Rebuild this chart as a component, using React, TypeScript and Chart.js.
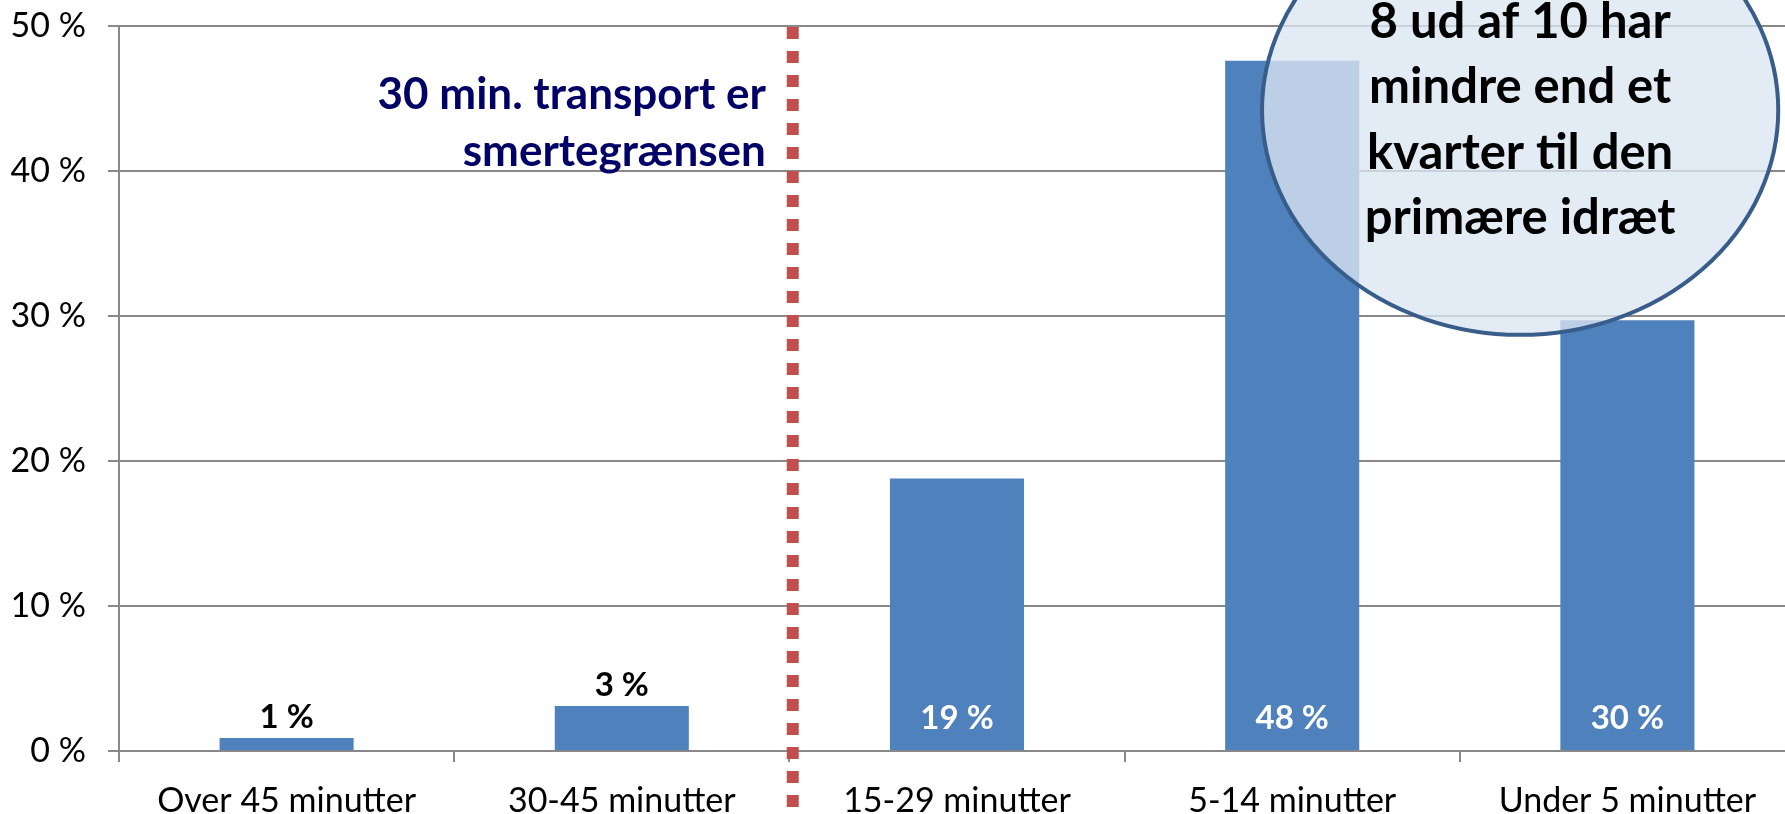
import React, { useEffect, useRef } from "react";
import { Chart, registerables } from "chart.js";

Chart.register(...registerables);

// ---- data ----
const categories = [
  "Over 45 minutter",
  "30-45 minutter",
  "15-29 minutter",
  "5-14 minutter",
  "Under 5 minutter",
];
const shares = [0.9, 3.1, 18.8, 47.6, 29.7];
const yTickValues = [0, 10, 20, 30, 40, 50];
const dividerText = ["30 min. transport er", "smertegrænsen"];
const calloutText = ["8 ud af 10 har", "mindre end et", "kvarter til den", "primære idræt"];

const FONT = "Lato, 'Open Sans', sans-serif";
const BAR = "#4F81BD";
const GRID = "#898989";

const overlayPlugin = {
  id: "overlay",
  afterDatasetsDraw(chart: any) {
    const { ctx } = chart;
    const x = chart.scales.x;
    const y = chart.scales.y;
    const meta = chart.getDatasetMeta(0);
    ctx.save();

    // data labels
    ctx.font = `bold 33px ${FONT}`;
    ctx.textAlign = "center";
    ctx.textBaseline = "alphabetic";
    meta.data.forEach((bar: any, i: number) => {
      const p = bar.getProps(["x", "y", "base"], true);
      const txt = Math.round(shares[i]) + " %";
      if (p.base - p.y > 60) {
        ctx.fillStyle = "#ffffff";
        ctx.fillText(txt, p.x, p.base - 21);
      } else {
        ctx.fillStyle = "#000000";
        ctx.fillText(txt, p.x, p.y - 10);
      }
    });

    // callout ellipse
    const cxv = 3.68, cyv = 44.2;
    const cx = x.getPixelForValue(cxv);
    const cy = y.getPixelForValue(cyv);
    const rx = x.getPixelForValue(cxv + 0.77) - cx;
    const ry = cy - y.getPixelForValue(cyv + 15.5);
    ctx.beginPath();
    ctx.ellipse(cx, cy, rx, ry, 0, 0, Math.PI * 2);
    ctx.fillStyle = "rgba(219,229,241,0.78)";
    ctx.fill();
    ctx.lineWidth = 4;
    ctx.strokeStyle = "#385D8A";
    ctx.stroke();

    ctx.fillStyle = "#000000";
    ctx.font = `bold 49px ${FONT}`;
    ctx.textAlign = "center";
    const firstBase = y.getPixelForValue(49.2);
    calloutText.forEach((line, i) => {
      ctx.fillText(line, cx, firstBase + i * 65.5);
    });

    // divider dotted line
    const dx = x.getPixelForValue(1.51);
    ctx.beginPath();
    ctx.setLineDash([12, 12]);
    ctx.lineWidth = 12;
    ctx.strokeStyle = "#C0504D";
    ctx.moveTo(dx, y.getPixelForValue(50) + 1);
    ctx.lineTo(dx, chart.height);
    ctx.stroke();
    ctx.setLineDash([]);

    // divider text
    ctx.fillStyle = "#000066";
    ctx.font = `bold 44px ${FONT}`;
    ctx.textAlign = "right";
    const tx = x.getPixelForValue(1.43);
    ctx.fillText(dividerText[0], tx, y.getPixelForValue(44.3));
    ctx.fillText(dividerText[1], tx, y.getPixelForValue(44.3) + 57);

    ctx.restore();
  },
};

export default function App() {
  const ref = useRef<HTMLCanvasElement | null>(null);

  useEffect(() => {
    if (!ref.current) return;
    Chart.defaults.font.family = FONT;
    const chart = new Chart(ref.current, {
      type: "bar",
      data: {
        labels: categories,
        datasets: [
          {
            data: shares,
            backgroundColor: BAR,
            barPercentage: 0.4,
            categoryPercentage: 1,
          },
        ],
      },
      options: {
        responsive: false,
        animation: false,
        devicePixelRatio: 1,
        layout: { padding: { top: 26, right: 6, bottom: 0, left: 0 } },
        plugins: {
          legend: { display: false },
          tooltip: { enabled: false },
        },
        scales: {
          x: {
            offset: true,
            grid: {
              offset: true,
              drawOnChartArea: false,
              drawTicks: true,
              tickLength: 11,
              color: GRID,
              lineWidth: 2,
            },
            border: { color: GRID, width: 2 },
            ticks: {
              color: "#000",
              font: { size: 34, family: FONT },
              padding: 19,
              maxRotation: 0,
              autoSkip: false,
            },
            afterFit: (s: any) => {
              s.height = 63;
              s.paddingLeft = 0;
              s.paddingRight = 0;
            },
          },
          y: {
            min: 0,
            max: 50,
            afterBuildTicks: (s: any) => {
              s.ticks = yTickValues.map((v) => ({ value: v }));
            },
            grid: {
              color: GRID,
              lineWidth: 2,
              tickLength: 11,
              drawTicks: true,
            },
            border: { color: GRID, width: 2 },
            ticks: {
              color: "#000",
              font: { size: 34, family: FONT },
              padding: 22,
              callback: (v: any) => v + " %",
            },
            afterFit: (s: any) => {
              s.width = 119;
              s.paddingTop = 0;
              s.paddingBottom = 0;
            },
          },
        },
      },
      plugins: [overlayPlugin],
    });
    return () => chart.destroy();
  }, []);

  return (
    <div
      style={{
        position: "fixed",
        left: 0,
        top: 0,
        width: 1785,
        height: 814,
        overflow: "hidden",
        background: "#fff",
      }}
    >
      <canvas ref={ref} width={1801} height={814} style={{ display: "block" }} />
    </div>
  );
}
